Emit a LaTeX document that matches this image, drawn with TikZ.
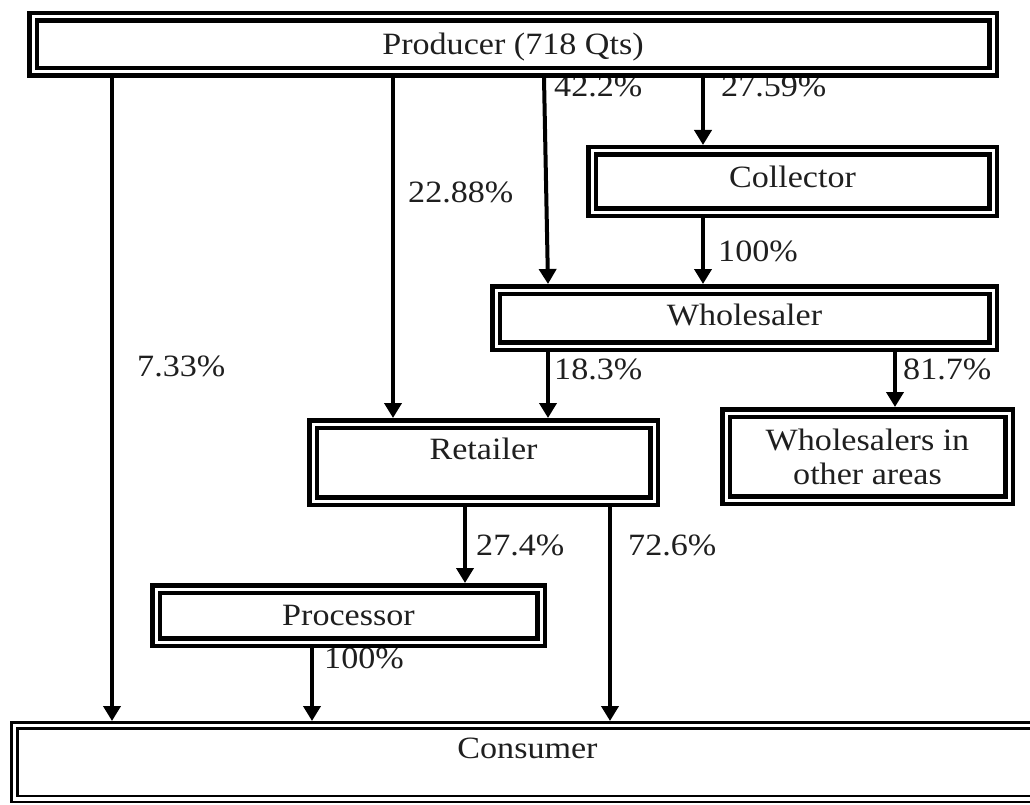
\documentclass[tikz,border=0pt]{standalone}
\usepackage{fontspec}
\setmainfont{Liberation Serif}[FakeStretch=1.1]
\usetikzlibrary{arrows.meta}
\tikzset{
  txt/.style={font=\fontsize{31}{34}\selectfont, text=black!88},
  dbox/.style={txt, draw=black, fill=white, line width=4.5pt, double=white, double distance=3pt,
    inner sep=0pt, outer sep=6pt, align=center},
  thinbox/.style={txt, draw=black, fill=white, line width=2.5pt, double=white, double distance=3.5pt,
    inner sep=0pt, outer sep=4.25pt, align=center},
  tpos/.style={text height=21pt, text depth=#1pt},
  pct/.style={txt, anchor=base west, inner sep=0pt},
  arr/.style={line width=4pt, -{Triangle[length=15pt,width=17pt]}}
}
\begin{document}
\begin{tikzpicture}[x=1pt,y=-1pt]
\clip (0,0) rectangle (1030,805);
\fill[white] (0,0) rectangle (1030,805);
% percentage labels
\node[pct] (l422) at (554,97) {42.2\%};
\node[pct] (l2759) at (721,97) {27.59\%};
\node[pct] (l2288) at (408,202) {22.88\%};
\node[pct] (l733) at (137,376) {7.33\%};
\node[pct] (l100a) at (718,261) {100\%};
\node[pct] (l183) at (554,379) {18.3\%};
\node[pct] (l817) at (903,379) {81.7\%};
\node[pct] (l274) at (476,555) {27.4\%};
\node[pct] (l726) at (628,555) {72.6\%};
\node[pct] (l100b) at (324,668) {100\%};
% boxes
\node[dbox, tpos=1, minimum width=960pt, minimum height=55pt] (prod) at (513,44.5) {Producer (718 Qts)};
\node[dbox, tpos=8, minimum width=401pt, minimum height=61pt] (coll) at (792.5,181.5) {Collector};
\node[dbox, tpos=7, minimum width=497pt, minimum height=56pt] (whole) at (744.5,318) {Wholesaler};
\node[dbox, minimum width=283pt, minimum height=87pt] (other) at (867.5,456.5) {Wholesalers in\\other areas};
\node[dbox, tpos=28, minimum width=341pt, minimum height=77pt] (ret) at (483.5,462.5) {Retailer};
\node[dbox, tpos=1, minimum width=385pt, minimum height=53pt] (proc) at (348.5,615.5) {Processor};
\node[thinbox, tpos=29, minimum width=1026.5pt, minimum height=73.5pt] (cons) at (527.5,762) {Consumer};
% connectors
\draw[arr] (112,0 |- prod.south) -- (112,0 |- cons.north);
\draw[arr] (393,0 |- prod.south) -- (393,0 |- ret.north);
\draw[arr] (544,0 |- prod.south) -- (548,0 |- whole.north);
\draw[arr] (703,0 |- prod.south) -- (703,0 |- coll.north);
\draw[arr] (703,0 |- coll.south) -- (703,0 |- whole.north);
\draw[arr] (548,0 |- whole.south) -- (548,0 |- ret.north);
\draw[arr] (895,0 |- whole.south) -- (895,0 |- other.north);
\draw[arr] (465,0 |- ret.south) -- (465,0 |- proc.north);
\draw[arr] (610,0 |- ret.south) -- (610,0 |- cons.north);
\draw[arr] (312,0 |- proc.south) -- (312,0 |- cons.north);
\end{tikzpicture}
\end{document}
